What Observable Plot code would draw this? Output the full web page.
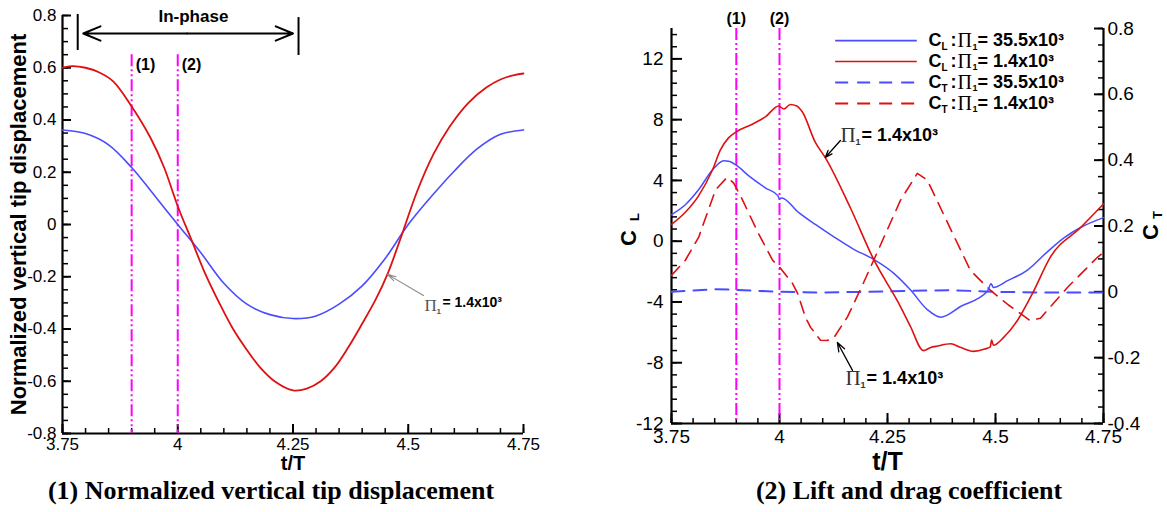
<!DOCTYPE html>
<html><head><meta charset="utf-8">
<script src="https://cdn.jsdelivr.net/npm/d3@7"></script>
<script src="https://cdn.jsdelivr.net/npm/@observablehq/plot@0.6"></script>
<style>
body{margin:0;background:#fff;width:1167px;height:512px;position:relative;overflow:hidden;font-family:"Liberation Sans",Arial,sans-serif}
.panel{position:absolute;top:0}
.cap{position:absolute;top:478px;width:600px;text-align:center;font-family:"Liberation Serif","Times New Roman",serif;font-weight:bold;font-size:26px;line-height:26px;white-space:nowrap;color:#000}
</style></head><body>
<div id="p1" class="panel" style="left:0"></div>
<div id="p2" class="panel" style="left:590px"></div>
<div class="cap" style="left:-29px">(1) Normalized vertical tip displacement</div>
<div class="cap" style="left:609px">(2) Lift and drag coefficient</div>
<script>
// ---------- data: panel 1 (normalized vertical tip displacement) ----------
const dispRedT = [3.75,3.77,3.8,3.83,3.86,3.9,3.94,3.97,4.0,4.03,4.06,4.09,4.12,4.15,4.18,4.21,4.25,4.28,4.31,4.34,4.37,4.4,4.43,4.455,4.48,4.52,4.555,4.59,4.63,4.67,4.7,4.73,4.75];
const dispRed  = [0.600,0.606,0.600,0.582,0.548,0.452,0.335,0.22,0.07,-0.06,-0.19,-0.30,-0.40,-0.48,-0.55,-0.60,-0.635,-0.628,-0.60,-0.548,-0.47,-0.38,-0.285,-0.19,-0.07,0.13,0.27,0.375,0.465,0.525,0.555,0.572,0.578];
const dispBlueT = [3.75,3.8,3.85,3.9,3.95,4.0,4.05,4.1,4.15,4.2,4.25,4.3,4.35,4.4,4.45,4.5,4.55,4.6,4.65,4.7,4.75];
const dispBlue  = [0.362,0.348,0.305,0.218,0.11,0.0,-0.108,-0.225,-0.305,-0.345,-0.36,-0.35,-0.305,-0.235,-0.13,0.0,0.107,0.205,0.29,0.345,0.362];

// ---------- data: panel 2 (lift and thrust coefficients) ----------
const clRedT = [3.75,3.782,3.813,3.845,3.863,3.882,3.9,3.937,3.968,3.998,4.01,4.025,4.04,4.053,4.083,4.106,4.164,4.218,4.28,4.303,4.333,4.35,4.366,4.396,4.42,4.449,4.475,4.488,4.491,4.495,4.52,4.551,4.588,4.627,4.697,4.75];
const clRed  = [1.1,1.9,3.0,4.7,6.0,6.8,7.2,7.7,8.2,8.9,8.7,9.0,8.9,8.5,6.5,5.5,2.2,-1.2,-4.3,-5.6,-7.2,-7.0,-6.9,-6.75,-7.0,-7.25,-7.1,-6.95,-6.5,-6.85,-6.3,-5.2,-3.3,-1.05,0.9,2.45];
const clBlueT = [3.75,3.782,3.813,3.845,3.871,3.885,3.9,3.929,3.968,3.996,4.0,4.005,4.044,4.083,4.125,4.17,4.218,4.264,4.303,4.342,4.373,4.419,4.481,4.49,4.495,4.528,4.574,4.62,4.66,4.697,4.75];
const clBlue  = [1.75,2.4,3.4,4.7,5.3,5.25,5.0,4.3,3.5,3.0,2.8,2.85,1.9,1.1,0.3,-0.5,-1.2,-2.1,-3.2,-4.5,-5.0,-4.3,-3.3,-2.8,-3.05,-2.6,-1.9,-0.7,0.25,0.9,1.55];
const ctRedT = [3.75,3.782,3.813,3.852,3.879,3.894,3.914,3.951,3.984,4.0,4.03,4.042,4.06,4.072,4.095,4.11,4.125,4.157,4.194,4.218,4.28,4.319,4.342,4.389,4.442,4.488,4.53,4.558,4.58,4.604,4.667,4.736,4.75];
const ctRed  = [0.05,0.096,0.166,0.31,0.348,0.33,0.28,0.178,0.096,0.075,0.026,-0.005,-0.077,-0.108,-0.147,-0.148,-0.141,-0.077,0.026,0.096,0.278,0.36,0.34,0.21,0.065,0.005,-0.04,-0.066,-0.087,-0.08,0.014,0.105,0.12];
const ctBlueT = [3.75,3.85,3.9,4.0,4.1,4.2,4.3,4.4,4.5,4.6,4.75];
const ctBlue  = [0.0,0.008,0.006,0.0,-0.002,0.0,0.003,0.005,0.0,-0.002,-0.002];

// ---------- ticks / labels ----------
const xTicks = [3.75,4,4.25,4.5,4.75];
const xMinor = d3.range(0,21).map(i => +(3.75 + i*0.05).toFixed(2));
const dispTicks = [-0.8,-0.6,-0.4,-0.2,0,0.2,0.4,0.6,0.8];
const dispMinor = d3.range(0,33).map(i => +(-0.8 + i*0.05).toFixed(2));
const clTicks = [-12,-8,-4,0,4,8,12];
const clMinor = d3.range(0,33).map(i => +(-12 + i*0.8).toFixed(2));
const ctTicks = [-0.4,-0.2,0,0.2,0.4,0.6,0.8];
const ctMinor = d3.range(0,25).map(i => +(-0.4 + i*0.05).toFixed(2));
const phaseT = [3.9, 4.0];
const phaseLabels = ["(1)","(2)"];
const legendCoef = ["L","L","T","T"];
const legendPi = ["35.5","1.4","35.5","1.4"];

// ---------- styles ----------
const RED = "#dd1111", BLUE = "#4b4bff", MAG = "#ff00ff";
const SANS = "Liberation Sans, Arial, sans-serif";
const SERIF = "Liberation Serif, Times New Roman, serif";
const fmt = d => String(d);
const DASHDOT = "12,3,2,3,2,3";
const centered = {textAnchor: "middle", lineAnchor: "middle"};

// ---------- panel 1 ----------
const F1W = 590 - 62 - 67, F1H = 480 - 15 - 47;
const p1 = Plot.plot({
  width: 590, height: 480,
  marginLeft: 62, marginRight: 67, marginTop: 15, marginBottom: 47,
  style: {fontFamily: SANS, fontSize: "17px", background: "white", color: "black", overflow: "visible"},
  x: {domain: [3.75, 4.75]},
  y: {domain: [-0.8, 0.8]},
  marks: [
    Plot.ruleX(xMinor, {insetTop: F1H - 5, strokeWidth: 1.5}),
    Plot.ruleX(xTicks, {insetTop: F1H - 9, strokeWidth: 2}),
    Plot.axisX(xTicks, {tickSize: 0, tickPadding: 4, tickFormat: fmt, fontSize: 17, label: null}),
    Plot.ruleY(dispMinor, {insetRight: F1W - 6, strokeWidth: 1.5}),
    Plot.ruleY(dispTicks, {insetRight: F1W - 9, strokeWidth: 2}),
    Plot.axisY(dispTicks, {tickSize: 0, tickPadding: 6, tickFormat: fmt, fontSize: 17, label: null}),
    Plot.ruleX([3.75], {strokeWidth: 2.2}),
    Plot.ruleY([-0.8], {strokeWidth: 2.2}),
    Plot.ruleX(phaseT, {y1: 0.65, y2: -0.8, stroke: MAG, strokeWidth: 2, strokeDasharray: DASHDOT}),
    Plot.text(phaseLabels, {x: phaseT, y: 0.61, text: d => d, textAnchor: "start", dx: 4, fontWeight: "bold", fontSize: 16}),
    Plot.line(dispBlue, {x: dispBlueT, y: d => d, stroke: BLUE, strokeWidth: 1.6, curve: "catmull-rom"}),
    Plot.line(dispRed, {x: dispRedT, y: d => d, stroke: RED, strokeWidth: 1.8, curve: "catmull-rom"}),
    // in-phase annotation
    Plot.ruleX([3.783, 4.262], {y1: [0.804, 0.792], y2: [0.666, 0.647], strokeWidth: 2}),
    Plot.arrow([0, 1], {x1: [4.02, 4.02], y1: [0.731, 0.731], x2: [3.795, 4.25], y2: [0.731, 0.731], headLength: 14, headAngle: 45, strokeWidth: 2, stroke: "black"}),
    Plot.text(["In-phase"], {x: 4.034, y: 0.796, text: d => d, fontWeight: "bold", fontSize: 17}),
    // Pi annotation
    Plot.arrow([0], {x1: 4.533, y1: -0.272, x2: 4.455, y2: -0.191, headLength: 12, headAngle: 30, stroke: "#8a8a8a", strokeWidth: 1.1}),
    Plot.text(["Π"], {x: 4.535, y: -0.31, text: d => d, textAnchor: "start", fontFamily: SERIF, fontSize: 17, fill: "#555"}),
    Plot.text(["1"], {x: 4.535, y: -0.31, text: d => d, textAnchor: "start", dx: 12, dy: 6, fontSize: 8, fontWeight: "bold", fill: "#555"}),
    Plot.text(["= 1.4x10³"], {x: 4.535, y: -0.30, text: d => d, textAnchor: "start", dx: 18, fontSize: 14, fontWeight: "bold"}),
    // axis titles
    Plot.text(["Normalized vertical tip displacement"], {frameAnchor: "left", dx: -44, rotate: -90, text: d => d, fontWeight: "bold", fontSize: 22, ...centered}),
    Plot.text(["t/T"], {frameAnchor: "bottom", dy: 30, text: d => d, fontWeight: "bold", fontSize: 20, ...centered})
  ]
});
document.getElementById("p1").append(p1);

// ---------- panel 2 ----------
const toCL = v => (v + 0.4) / 1.2 * 26 - 12;   // C_T value -> position on C_L scale
const fromCL = v => (v + 12) / 26 * 1.2 - 0.4;
const legendY = [13.2, 11.83, 10.45, 9.07];
const legendColor = [BLUE, RED, BLUE, RED];
const LX0 = 4.13, LX1 = 4.319, LT = 4.345;

const legendMarks = [];
legendCoef.forEach((c, i) => {
  legendMarks.push(Plot.ruleY([legendY[i]], {x1: LX0, x2: LX1, stroke: legendColor[i], strokeWidth: i < 2 ? 1.6 : 2, strokeDasharray: i < 2 ? null : "13,9"}));
});
const lrow = (txt, opts) => Plot.text(txt, {x: LT, y: legendY, text: d => d, textAnchor: "start", fontWeight: "bold", fontSize: 18, ...opts});
legendMarks.push(
  lrow(["C","C","C","C"], {}),
  lrow(legendCoef, {dx: 13, dy: 6, fontSize: 10}),
  lrow([":",":",":",":"], {dx: 22}),
  lrow(["Π","Π","Π","Π"], {dx: 29, fontFamily: SERIF, fontWeight: "normal", fontSize: 20}),
  lrow(["1","1","1","1"], {dx: 44, dy: 6, fontSize: 9}),
  lrow(legendPi.map(v => "= " + v + "x10³"), {dx: 49})
);

const annT = [4.141, 4.153];
const annY = [6.95, -8.99];
const F2W = 577 - 81 - 64, F2H = 480 - 28 - 57;
const p2 = Plot.plot({
  width: 577, height: 480,
  marginLeft: 81, marginRight: 64, marginTop: 28, marginBottom: 57,
  style: {fontFamily: SANS, fontSize: "19px", background: "white", color: "black", overflow: "visible"},
  x: {domain: [3.75, 4.75]},
  y: {domain: [-12, 14]},
  marks: [
    Plot.ruleX(xMinor, {insetTop: F2H - 5, strokeWidth: 1.5}),
    Plot.ruleX(xTicks, {insetTop: F2H - 10, strokeWidth: 2}),
    Plot.axisX(xTicks, {tickSize: 0, tickPadding: 6, tickFormat: fmt, fontSize: 19, label: null}),
    Plot.ruleY(clMinor, {insetRight: F2W - 6, strokeWidth: 1.5}),
    Plot.ruleY(clTicks, {insetRight: F2W - 11, strokeWidth: 2}),
    Plot.axisY(clTicks, {tickSize: 0, tickPadding: 8, tickFormat: fmt, fontSize: 19, label: null}),
    Plot.ruleY(ctMinor.map(toCL), {insetLeft: F2W - 5, strokeWidth: 1.5}),
    Plot.ruleY(ctTicks.map(toCL), {insetLeft: F2W - 9, strokeWidth: 2}),
    Plot.axisY(ctTicks.map(toCL), {anchor: "right", tickSize: 0, tickPadding: 4, fontSize: 19, label: null,
      tickFormat: d => fmt(Math.round(fromCL(d) * 10) / 10)}),
    Plot.ruleX([3.75, 4.75], {strokeWidth: 2.2}),
    Plot.ruleY([-12], {strokeWidth: 2.2}),
    Plot.ruleX(phaseT, {stroke: MAG, strokeWidth: 2, strokeDasharray: DASHDOT}),
    Plot.text(phaseLabels, {x: phaseT, y: 14, dy: -10, text: d => d, fontWeight: "bold", fontSize: 16}),
    Plot.line(ctBlue, {x: ctBlueT, y: d => toCL(d), stroke: BLUE, strokeWidth: 2, strokeDasharray: "13,9"}),
    Plot.line(ctRed, {x: ctRedT, y: d => toCL(d), stroke: RED, strokeWidth: 1.6, strokeDasharray: "12,8"}),
    Plot.line(clBlue, {x: clBlueT, y: d => d, stroke: BLUE, strokeWidth: 1.5, curve: "monotone-x"}),
    Plot.line(clRed, {x: clRedT, y: d => d, stroke: RED, strokeWidth: 1.6, curve: "monotone-x"}),
    ...legendMarks,
    // Pi annotations
    Plot.arrow([0, 1], {x1: [4.141, 4.169], y1: [6.63, -8.5], x2: [4.106, 4.134], y2: [5.51, -6.67], headLength: 11, headAngle: 40, stroke: "black", strokeWidth: 1.3}),
    Plot.text(["Π","Π"], {x: annT, y: annY, text: d => d, textAnchor: "start", fontFamily: SERIF, fontSize: 21, fill: "#333"}),
    Plot.text(["1","1"], {x: annT, y: annY, text: d => d, textAnchor: "start", dx: 15, dy: 7, fontSize: 9, fontWeight: "bold", fill: "#333"}),
    Plot.text(["= 1.4x10³","= 1.4x10³"], {x: annT, y: annY, text: d => d, textAnchor: "start", dx: 21, fontSize: 18, fontWeight: "bold"}),
    // axis titles
    Plot.text(["C"], {frameAnchor: "left", dx: -43, dy: 12, rotate: -90, text: d => d, fontWeight: "bold", fontSize: 22, ...centered}),
    Plot.text(["L"], {frameAnchor: "left", dx: -37, dy: -9, rotate: -90, text: d => d, fontWeight: "bold", fontSize: 13, ...centered}),
    Plot.text(["C"], {frameAnchor: "right", dx: 47, dy: 6, rotate: -90, text: d => d, fontWeight: "bold", fontSize: 22, ...centered}),
    Plot.text(["T"], {frameAnchor: "right", dx: 54, dy: -11, rotate: -90, text: d => d, fontWeight: "bold", fontSize: 13, ...centered}),
    Plot.text(["t/T"], {frameAnchor: "bottom", dy: 38, text: d => d, fontWeight: "bold", fontSize: 25, ...centered})
  ]
});
document.getElementById("p2").append(p2);
</script>
</body></html>
